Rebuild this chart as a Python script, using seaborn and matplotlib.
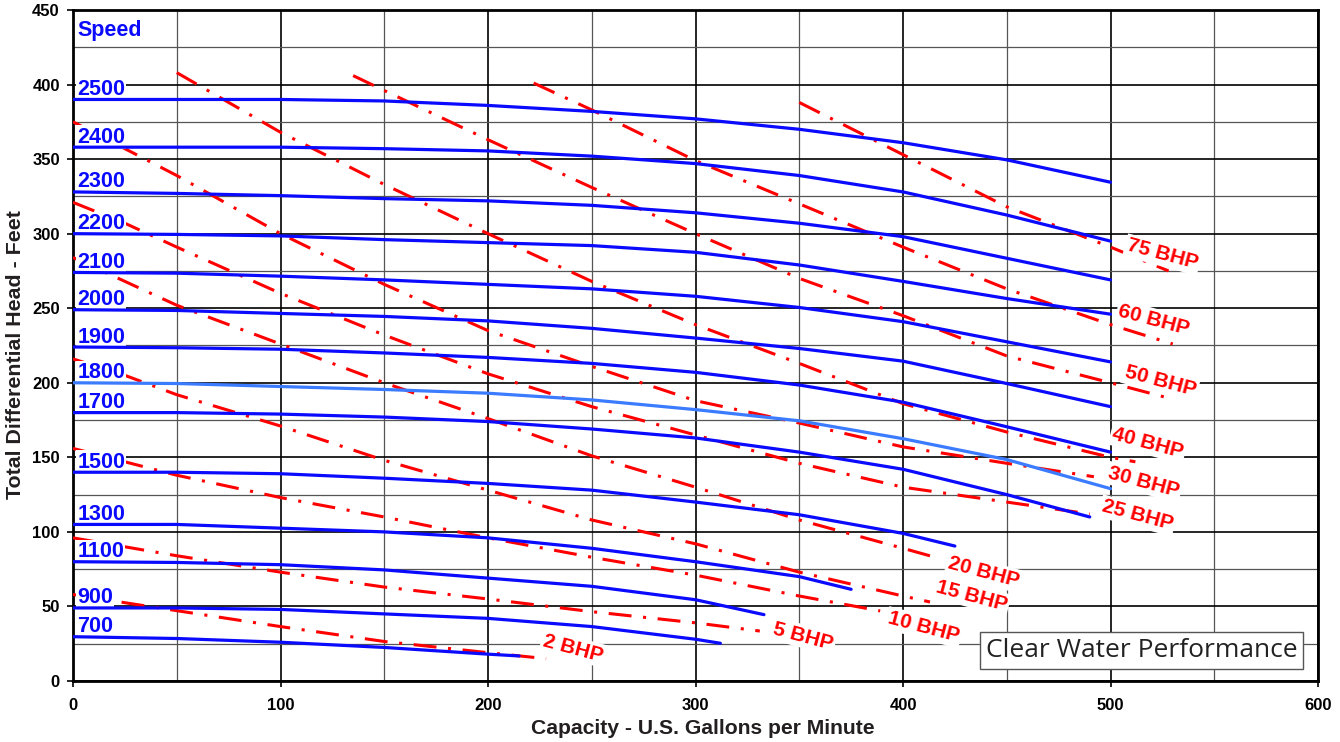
import matplotlib
matplotlib.use("Agg")
import matplotlib.pyplot as plt
import seaborn as sns
from matplotlib.ticker import MultipleLocator

# ---- pump speed curves (flow in US gpm, head in feet) ----
flow = [0, 50, 100, 150, 200, 250, 300, 350, 400, 450, 500]
head_2500 = [390, 390, 390, 389, 386, 382, 377, 370, 361, 349.5, 334.5]
head_2400 = [358, 358, 358, 357, 355.5, 352, 347, 339, 328, 312.5, 295]
head_2300 = [328, 327, 325.5, 323.5, 322, 319, 314, 307, 298, 283.5, 269]
head_2200 = [300, 299.5, 298.5, 296, 294, 292, 287.5, 279, 268, 256.5, 246]
head_2100 = [274, 273.5, 271.5, 269, 266, 263, 258, 250.5, 241, 227.5, 214]
head_2000 = [249, 248.5, 246.5, 244.5, 241.5, 236.5, 230, 223, 214.5, 199.5, 184]
head_1900 = [224, 223.5, 222.5, 220, 217, 213, 207, 198.5, 187, 170.5, 153.5]
head_1800 = [200, 199.5, 197.5, 195.5, 193, 188.5, 182, 174.5, 162.5, 148.5, 129]

flow_1700 = [0, 50, 100, 150, 200, 250, 300, 350, 400, 450, 490]
head_1700 = [180, 180, 179, 177, 174, 169, 163, 153.5, 142, 125, 110]
flow_1500 = [0, 50, 100, 150, 200, 250, 300, 350, 400, 425]
head_1500 = [140, 140, 139, 136, 132.5, 128, 120, 111.5, 99, 90.5]
flow_1300 = [0, 50, 100, 150, 200, 250, 300, 350, 375]
head_1300 = [105, 105, 102.5, 100, 96, 89, 80, 70, 61.5]
flow_1100 = [0, 50, 100, 150, 200, 250, 300, 333]
head_1100 = [80, 79.5, 78, 74.5, 69, 63.5, 54.5, 44.5]
flow_900 = [0, 50, 100, 150, 200, 250, 300, 312]
head_900 = [49, 49, 48, 45, 42, 36.5, 28, 25.3]
flow_700 = [0, 50, 100, 150, 200, 215]
head_700 = [29.7, 28.5, 26, 22.5, 18, 16.8]

speeds = ["2500", "2400", "2300", "2200", "2100", "2000", "1900", "1800",
          "1700", "1500", "1300", "1100", "900", "700"]

# ---- brake horsepower lines ----
bhp_2_flow = [0, 25, 100, 150, 200, 228]
bhp_2_head = [58, 52.5, 36.5, 26.5, 19, 15]
bhp_5_flow = [0, 50, 100, 150, 200, 250, 300, 331]
bhp_5_head = [96, 84, 73, 63, 55, 46.5, 39, 33.5]
bhp_10_flow = [0, 25, 50, 100, 150, 200, 250, 300, 350, 389]
bhp_10_head = [156, 147, 138, 123, 110, 96, 83, 71, 57, 47]
bhp_15_flow = [0, 25, 50, 100, 150, 200, 250, 300, 350, 400, 413]
bhp_15_head = [216, 205, 192, 171, 148, 128, 108, 92, 73, 57, 53]
bhp_20_flow = [0, 50, 100, 150, 200, 250, 300, 350, 400, 418]
bhp_20_head = [284, 252, 226, 200, 176, 151, 130, 108, 89, 82]
bhp_25_flow = [0, 25, 50, 100, 150, 200, 250, 300, 350, 400, 450, 490]
bhp_25_head = [321, 307, 291, 260, 232, 206, 184, 165, 146, 130, 120, 112]
bhp_30_flow = [0, 50, 100, 150, 200, 250, 300, 350, 400, 450, 492]
bhp_30_head = [375, 339, 300, 266, 235, 211, 188, 173, 157, 146, 137]
bhp_40_flow = [50, 100, 150, 200, 250, 300, 350, 400, 450, 500, 512]
bhp_40_head = [408, 368, 333, 300, 268, 239, 213, 186, 167, 150, 147]
bhp_50_flow = [135, 150, 200, 250, 300, 350, 400, 450, 500, 530]
bhp_50_head = [406, 396, 363, 331, 300, 270, 245, 218, 200, 189]
bhp_60_flow = [222, 250, 300, 350, 400, 450, 500, 530]
bhp_60_head = [401, 383, 349, 320, 291, 263, 239, 226]
bhp_75_flow = [350, 400, 450, 500, 528]
bhp_75_head = [388, 353, 318, 291, 275]

bhp_names = ["2 BHP", "5 BHP", "10 BHP", "15 BHP", "20 BHP", "25 BHP",
             "30 BHP", "40 BHP", "50 BHP", "60 BHP", "75 BHP"]

sns.set_theme(style="white")
plt.rcParams["font.family"] = ["Liberation Sans", "DejaVu Sans"]

fig = plt.figure(figsize=(13.4, 7.42), dpi=100)
ax = fig.add_axes([73 / 1340, 61 / 742, 1245 / 1340, 671 / 742])

speed_curves = [
    (flow, head_2500), (flow, head_2400), (flow, head_2300), (flow, head_2200),
    (flow, head_2100), (flow, head_2000), (flow, head_1900), (flow, head_1800),
    (flow_1700, head_1700), (flow_1500, head_1500), (flow_1300, head_1300),
    (flow_1100, head_1100), (flow_900, head_900), (flow_700, head_700),
]

# red power lines sit under the speed labels, blue curves go on top
bhp_lines = [
    (bhp_2_flow, bhp_2_head), (bhp_5_flow, bhp_5_head), (bhp_10_flow, bhp_10_head),
    (bhp_15_flow, bhp_15_head), (bhp_20_flow, bhp_20_head), (bhp_25_flow, bhp_25_head),
    (bhp_30_flow, bhp_30_head), (bhp_40_flow, bhp_40_head), (bhp_50_flow, bhp_50_head),
    (bhp_60_flow, bhp_60_head), (bhp_75_flow, bhp_75_head),
]

for q, h in bhp_lines:
    sns.lineplot(x=q, y=h, ax=ax, color="#ff0000", linewidth=2.2,
                 estimator=None, sort=False, zorder=3)
    ax.lines[-1].set_dashes([7.5, 3.8, 1.0, 3.8])

for name, (q, h) in zip(speeds, speed_curves):
    col = "#3b7bff" if name == "1800" else "#0a0aff"
    sns.lineplot(x=q, y=h, ax=ax, color=col, linewidth=2.3,
                 estimator=None, sort=False, zorder=5)
    ax.text(2, h[0] + 3, name, color="#0a0aff", fontsize=15.5, fontweight="bold",
            ha="left", va="baseline", zorder=4,
            bbox=dict(facecolor="white", edgecolor="none", pad=1.0))

ax.text(2, 436.5, "Speed", color="#0a0aff", fontsize=15.5, fontweight="bold",
        ha="left", va="center", zorder=6)

# label placement for the BHP lines (layout only)
bhp_label_xy = [(241, 22), (352, 30), (410, 36), (433, 57), (439, 73), (513, 111),
                (516, 133.5), (518, 159.5), (524, 201), (521, 242), (525, 286)]

for name, (lx, ly) in zip(bhp_names, bhp_label_xy):
    ax.text(lx, ly, name, color="#ff0000", fontsize=15, fontweight="bold",
            rotation=-15, rotation_mode="anchor", ha="center", va="center", zorder=7,
            bbox=dict(facecolor="white", edgecolor="none", pad=1.5))

ax.text(515, 20.5, "Clear Water Performance", color="#222222", fontsize=19,
        family=["Open Sans", "DejaVu Sans"], ha="center", va="center", zorder=8,
        bbox=dict(boxstyle="square,pad=0.22", facecolor="white",
                  edgecolor="#555555", linewidth=1.0))

ax.set_xlim(0, 600)
ax.set_ylim(0, 450)
ax.xaxis.set_major_locator(MultipleLocator(100))
ax.xaxis.set_minor_locator(MultipleLocator(50))
ax.yaxis.set_major_locator(MultipleLocator(50))
ax.yaxis.set_minor_locator(MultipleLocator(25))
ax.grid(which="major", color="black", linewidth=1.2, zorder=0)
ax.grid(which="minor", color="#555555", linewidth=0.9, zorder=0)
ax.set_axisbelow(True)

ax.tick_params(which="major", direction="out", length=4, width=1.2,
               color="black", labelsize=12, labelcolor="black")
ax.tick_params(axis="x", pad=8)
ax.tick_params(axis="y", pad=5.5)
ax.tick_params(which="minor", length=0)
ax.tick_params(bottom=True, left=True)
for lab in ax.get_xticklabels() + ax.get_yticklabels():
    lab.set_fontweight("bold")

for side in ["left", "bottom", "top", "right"]:
    ax.spines[side].set_color("black")
    ax.spines[side].set_linewidth(2)

ax.set_xlabel("Capacity - U.S. Gallons per Minute", fontsize=15.2,
              fontweight="bold", color="#231f20")
ax.set_ylabel("Total Differential Head - Feet", fontsize=15.4,
              fontweight="bold", color="#231f20")
ax.xaxis.set_label_coords(0.5056, -0.0715)
ax.xaxis.label.set_va("center")
ax.yaxis.set_label_coords(-0.0462, 0.487)
ax.yaxis.label.set_va("center")

fig.savefig("out.png", dpi=100)
